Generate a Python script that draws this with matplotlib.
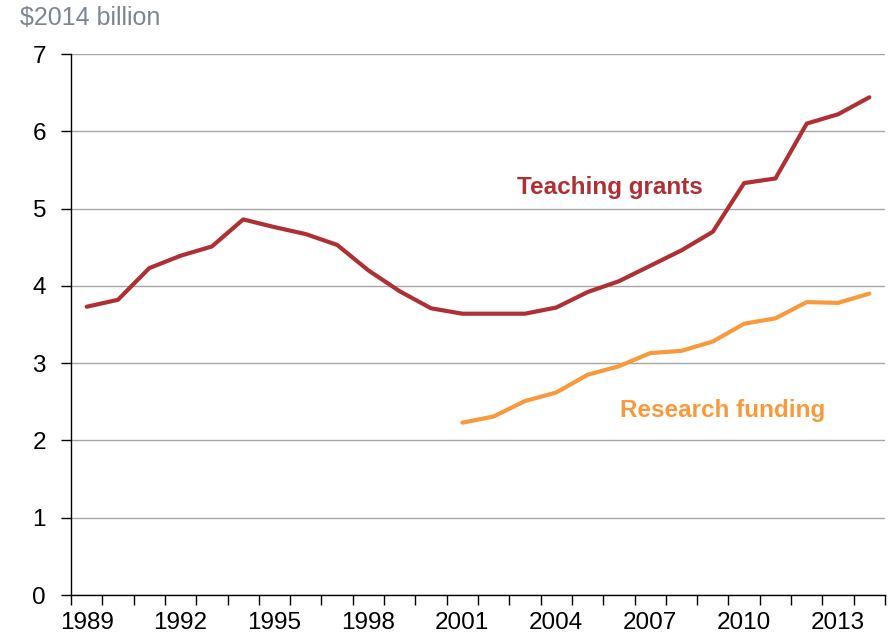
import numpy as np
import matplotlib
matplotlib.use("Agg")
import matplotlib.pyplot as plt

plt.rcParams['font.family'] = ['Liberation Sans', 'DejaVu Sans']
plt.rcParams['xtick.labelsize'] = 17.5
plt.rcParams['ytick.labelsize'] = 17.5

years = list(range(1989, 2015))
teaching = [3.73, 3.82, 4.23, 4.39, 4.51, 4.86, 4.76, 4.67, 4.53, 4.20, 3.93, 3.71,
            3.64, 3.64, 3.64, 3.72, 3.92, 4.06, 4.26, 4.46, 4.70, 5.33, 5.39, 6.10,
            6.22, 6.44]
research_years = list(range(2001, 2015))
research = [2.23, 2.31, 2.51, 2.62, 2.85, 2.96, 3.13, 3.16, 3.28, 3.51, 3.58, 3.79,
            3.78, 3.90]
tick_years = list(range(1989, 2014, 3))

red = "#AF3034"
orange = "#F89A3C"

fig = plt.figure(figsize=(8.9, 6.37), dpi=100)
ax = fig.add_axes([0.0798, 0.0659, 0.9146, 0.8493])

ax.plot(years, teaching, color=red, lw=3, solid_capstyle='round', zorder=3)
ax.plot(research_years, research, color=orange, lw=3, solid_capstyle='round', zorder=3)

ax.set_xlim(1988.5, 2014.5)
ax.set_ylim(0, 7)
ax.set_yticks(range(0, 8))
ax.set_yticklabels([str(v) for v in range(0, 8)], fontsize=17.5)
ax.set_xticks(np.arange(1988.5, 2015, 1))
ax.set_xticklabels([])
ax.set_xticks(tick_years, minor=True)
ax.set_xticklabels([str(y) for y in tick_years], minor=True, fontsize=17.5)
ax.tick_params(axis='x', which='minor', length=0, pad=12)
ax.tick_params(axis='x', which='major', length=7, width=1, direction='out')
ax.tick_params(axis='y', length=7, width=1, pad=11)

for s in ['top', 'right']:
    ax.spines[s].set_visible(False)
for s in ['left', 'bottom']:
    ax.spines[s].set_linewidth(1)

ax.yaxis.grid(True, color='#a6a6a6', lw=1)
ax.set_axisbelow(True)

ax.text(2005.7, 5.27, "Teaching grants", color=red, fontsize=17.5, fontweight='bold',
        ha='center', va='center')
ax.text(2009.3, 2.39, "Research funding", color=orange, fontsize=17.5, fontweight='bold',
        ha='center', va='center')

fig.text(0.022, 0.972, "$2014 billion", color='#7d8690', fontsize=18, ha='left', va='center')

fig.savefig("out.png", dpi=100)
